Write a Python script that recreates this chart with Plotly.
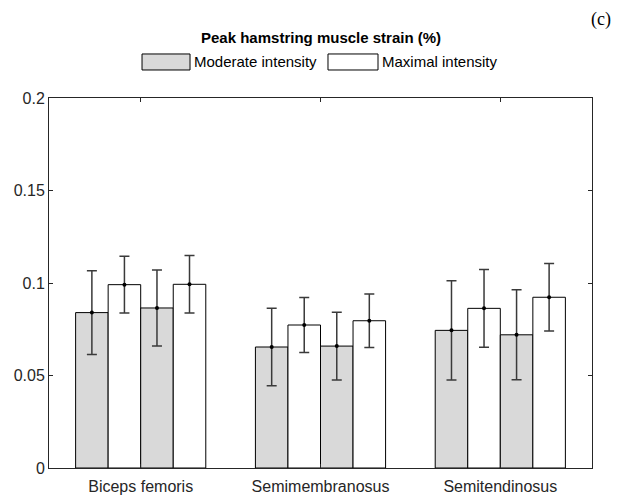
import plotly.graph_objects as go
import numpy as np

muscles = ["Biceps femoris", "Semimembranosus", "Semitendinosus"]
legend_names = ["Moderate intensity", "Maximal intensity"]

# four bars per muscle: moderate, maximal, moderate, maximal
moderate_a = [0.084, 0.0654, 0.0744]
moderate_a_sd = [0.0226, 0.021, 0.0268]
maximal_a = [0.0991, 0.0773, 0.0863]
maximal_a_sd = [0.0153, 0.0148, 0.021]
moderate_b = [0.0865, 0.0659, 0.072]
moderate_b_sd = [0.0205, 0.0183, 0.0243]
maximal_b = [0.0993, 0.0796, 0.0923]
maximal_b_sd = [0.0155, 0.0144, 0.0183]

yticks = [0, 0.05, 0.1, 0.15, 0.2]
ytick_text = ["0", "0.05", "0.1", "0.15", "0.2"]

series = [
    (moderate_a, moderate_a_sd, "#d9d9d9", legend_names[0]),
    (maximal_a, maximal_a_sd, "#ffffff", legend_names[1]),
    (moderate_b, moderate_b_sd, "#d9d9d9", legend_names[0]),
    (maximal_b, maximal_b_sd, "#ffffff", legend_names[1]),
]

bar_w = 0.181
base = np.arange(len(muscles))
offsets = [-1.5 * bar_w, -0.5 * bar_w, 0.5 * bar_w, 1.5 * bar_w]

fig = go.Figure()
for (vals, sd, col, name), off in zip(series, offsets):
    xs = base + off
    fig.add_trace(go.Bar(
        x=xs, y=vals, width=bar_w, name=name, showlegend=False,
        marker=dict(color=col, line=dict(color="#000000", width=1)),
    ))
    fig.add_trace(go.Scatter(
        x=xs, y=vals, mode="markers", showlegend=False,
        marker=dict(color="#000000", size=4),
        error_y=dict(type="data", array=sd, visible=True,
                     color="#3a3a3a", thickness=1.5, width=5),
    ))

font = "Liberation Sans, Arial, sans-serif"
fig.update_layout(
    width=624, height=496,
    margin=dict(l=49, r=32, t=98, b=28, pad=0),
    paper_bgcolor="white", plot_bgcolor="white",
    barmode="overlay",
    font=dict(family=font, size=16, color="#262626"),
    showlegend=False,
    xaxis=dict(
        range=[-0.51, 2.51], tickmode="array", tickvals=list(base), ticktext=muscles,
        showgrid=False, zeroline=False, showline=True, linecolor="#262626", linewidth=1,
        mirror="ticks", ticks="inside", ticklen=4, tickcolor="#262626",
        tickfont=dict(size=16, color="#262626"), automargin=False, ticklabelstandoff=4,
    ),
    yaxis=dict(
        range=[0, 0.2], tickmode="array", tickvals=yticks, ticktext=ytick_text,
        showgrid=False, zeroline=False, showline=True, linecolor="#262626", linewidth=1,
        mirror="ticks", ticks="inside", ticklen=4, tickcolor="#262626",
        tickfont=dict(size=16, color="#262626"), automargin=False,
    ),
)

# title and custom legend
fig.add_annotation(x=0.5, y=1.164, xref="paper", yref="paper", showarrow=False,
                   text="<b>Peak hamstring muscle strain (%)</b>",
                   font=dict(family=font, size=15, color="#000000"),
                   xanchor="center", yanchor="middle")
fig.add_annotation(x=0.994, y=1.211, xref="paper", yref="paper", showarrow=False,
                   text="(c)", font=dict(family="Liberation Serif, Times New Roman, serif", size=18, color="#000000"),
                   xanchor="left", yanchor="middle")

legend_items = [(0.1713, 0.2597, "#d9d9d9", legend_names[0]),
                (0.5138, 0.6059, "#ffffff", legend_names[1])]
for x0, x1, col, name in legend_items:
    fig.add_shape(type="rect", xref="paper", yref="paper", x0=x0, x1=x1, y0=1.0757, y1=1.119,
                  fillcolor=col, line=dict(color="#000000", width=1))
    fig.add_annotation(x=x1 + 0.004, y=1.0974, xref="paper", yref="paper", showarrow=False,
                       text=name, font=dict(family=font, size=15, color="#000000"),
                       xanchor="left", yanchor="middle")

fig.write_html("out.html")
